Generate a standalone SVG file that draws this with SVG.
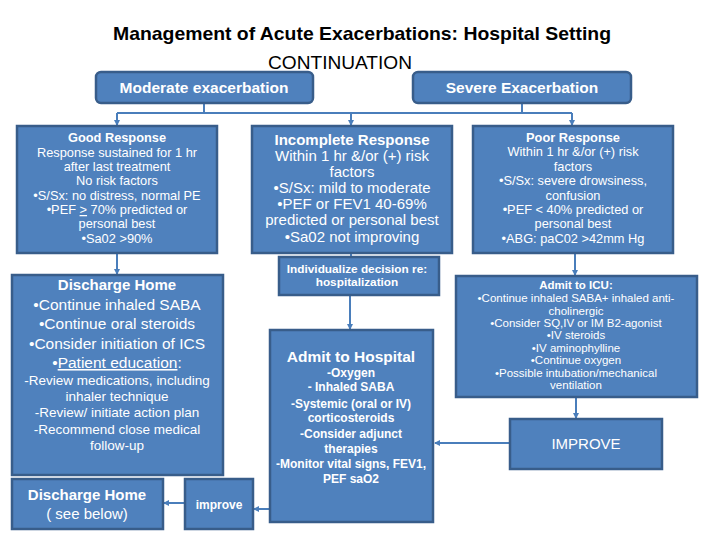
<svg xmlns="http://www.w3.org/2000/svg" width="720" height="540" viewBox="0 0 720 540">
<defs>
<marker id="ah" markerUnits="userSpaceOnUse" markerWidth="6" markerHeight="6" refX="5" refY="3" orient="auto">
<path d="M0,0 L6,3 L0,6 z" fill="#4A7EBB"/>
</marker>
<style>
.box{fill:#4F81BD;stroke:#385D8A;stroke-width:2.5}
.con{fill:none;stroke:#4A7EBB;stroke-width:2}
text{font-family:"Liberation Sans",Arial,sans-serif;fill:#fff;text-anchor:middle}
.t{fill:#000}
.b{font-weight:bold}
</style>
</defs>
<rect width="720" height="540" fill="#fff"/>
<text class="t b" x="362" y="40" font-size="19" textLength="498" lengthAdjust="spacingAndGlyphs">Management of Acute Exacerbations: Hospital Setting</text>
<text class="t" x="340" y="69" font-size="19" textLength="144" lengthAdjust="spacingAndGlyphs">CONTINUATION</text>

<g id="connectors">
<path class="con" d="M204,103 V113 M117,113 H572 M522,103 V113 M351,253 V257"/>
<path class="con" d="M117,113 V125" marker-end="url(#ah)"/>
<path class="con" d="M351,113 V125" marker-end="url(#ah)"/>
<path class="con" d="M572,113 V125" marker-end="url(#ah)"/>
<path class="con" d="M117,253 V274" marker-end="url(#ah)"/>
<path class="con" d="M350,295 V329" marker-end="url(#ah)"/>
<path class="con" d="M575,253 V275" marker-end="url(#ah)"/>
<path class="con" d="M576,397 V418" marker-end="url(#ah)"/>
<path class="con" d="M510,443 H435" marker-end="url(#ah)"/>
<path class="con" d="M270,509 H254" marker-end="url(#ah)"/>
<path class="con" d="M185,503 H164" marker-end="url(#ah)"/>
</g>

<g id="moderate">
<rect class="box" x="96" y="72" width="217" height="31" rx="5"/>
<text class="b" x="204" y="93" font-size="15.5">Moderate exacerbation</text>
</g>
<g id="severe">
<rect class="box" x="413" y="72" width="218" height="31" rx="5"/>
<text class="b" x="522" y="93" font-size="15.5">Severe Exacerbation</text>
</g>

<g id="good" font-size="12.8">
<rect class="box" x="17" y="126" width="200" height="127"/>
<text class="b" x="117" y="142">Good Response</text>
<text x="117" y="157">Response sustained for 1 hr</text>
<text x="117" y="171">after last treatment</text>
<text x="117" y="185">No risk factors</text>
<text x="117" y="200">•S/Sx: no distress, normal PE</text>
<text x="117" y="214">•PEF <tspan text-decoration="underline">&gt;</tspan> 70% predicted or</text>
<text x="117" y="228">personal best</text>
<text x="117" y="243">•Sa02 &gt;90%</text>
</g>

<g id="incomplete" font-size="15">
<rect class="box" x="252" y="126" width="200" height="127"/>
<text class="b" x="352" y="145">Incomplete Response</text>
<text x="352" y="161">Within 1 hr &amp;/or (+) risk</text>
<text x="352" y="177">factors</text>
<text x="352" y="193">•S/Sx: mild to moderate</text>
<text x="352" y="209">•PEF or FEV1 40-69%</text>
<text x="352" y="225">predicted or personal best</text>
<text x="352" y="242">•Sa02 not improving</text>
</g>

<g id="poor" font-size="12.8">
<rect class="box" x="473" y="126" width="200" height="127"/>
<text class="b" x="573" y="142">Poor Response</text>
<text x="573" y="156">Within 1 hr &amp;/or (+) risk</text>
<text x="573" y="171">factors</text>
<text x="573" y="185">•S/Sx: severe drowsiness,</text>
<text x="573" y="200">confusion</text>
<text x="573" y="214">•PEF &lt; 40% predicted or</text>
<text x="573" y="228">personal best</text>
<text x="573" y="243">•ABG:  paC02 &gt;42mm Hg</text>
</g>

<g id="discharge">
<rect class="box" x="12" y="275" width="211" height="200"/>
<text class="b" x="117" y="290" font-size="15">Discharge Home</text>
<text x="117" y="310" font-size="15.5">•Continue inhaled SABA</text>
<text x="117" y="329" font-size="15.5">•Continue oral steroids</text>
<text x="117" y="349" font-size="15.5">•Consider initiation of ICS</text>
<text x="117" y="368" font-size="15.5">•<tspan text-decoration="underline">Patient education</tspan>:</text>
<text x="117" y="385" font-size="13.5">-Review medications, including</text>
<text x="117" y="401" font-size="13.5">inhaler technique</text>
<text x="117" y="417" font-size="13.5">-Review/ initiate action plan</text>
<text x="117" y="434" font-size="13.5">-Recommend close medical</text>
<text x="117" y="450" font-size="13.5">follow-up</text>
</g>

<g id="discharge2" font-size="15">
<rect class="box" x="12" y="479" width="151" height="50"/>
<text class="b" x="87" y="500">Discharge Home</text>
<text x="87" y="519">( see below)</text>
</g>

<g id="improve-small">
<rect class="box" x="185" y="479" width="68" height="50"/>
<text class="b" x="219" y="509" font-size="12">improve</text>
</g>

<g id="individualize" font-size="11.8">
<rect class="box" x="279" y="257" width="160" height="38"/>
<text class="b" x="357" y="273">Individualize decision re:</text>
<text class="b" x="357" y="286">hospitalization</text>
</g>

<g id="hospital" font-size="12" font-weight="bold">
<rect class="box" x="270" y="330" width="163" height="192"/>
<text x="351" y="362" font-size="15.5">Admit to Hospital</text>
<text x="351" y="377">-Oxygen</text>
<text x="351" y="391">- Inhaled SABA</text>
<text x="351" y="408">-Systemic (oral or IV)</text>
<text x="351" y="422">corticosteroids</text>
<text x="351" y="438">-Consider adjunct</text>
<text x="351" y="453">therapies</text>
<text x="351" y="468">-Monitor vital signs, FEV1,</text>
<text x="351" y="483">PEF saO2</text>
</g>

<g id="icu" font-size="11.5">
<rect class="box" x="456" y="276" width="241" height="121"/>
<text class="b" x="576" y="289">Admit to ICU:</text>
<text x="576" y="302">•Continue inhaled SABA+ inhaled anti-</text>
<text x="576" y="315">cholinergic</text>
<text x="576" y="327">•Consider SQ,IV or IM B2-agonist</text>
<text x="576" y="339">•IV steroids</text>
<text x="576" y="352">•IV aminophylline</text>
<text x="576" y="364">•Continue oxygen</text>
<text x="576" y="377">•Possible intubation/mechanical</text>
<text x="576" y="389">ventilation</text>
</g>

<g id="improve">
<rect class="box" x="510" y="419" width="152" height="50"/>
<text x="586" y="449" font-size="15">IMPROVE</text>
</g>
</svg>
